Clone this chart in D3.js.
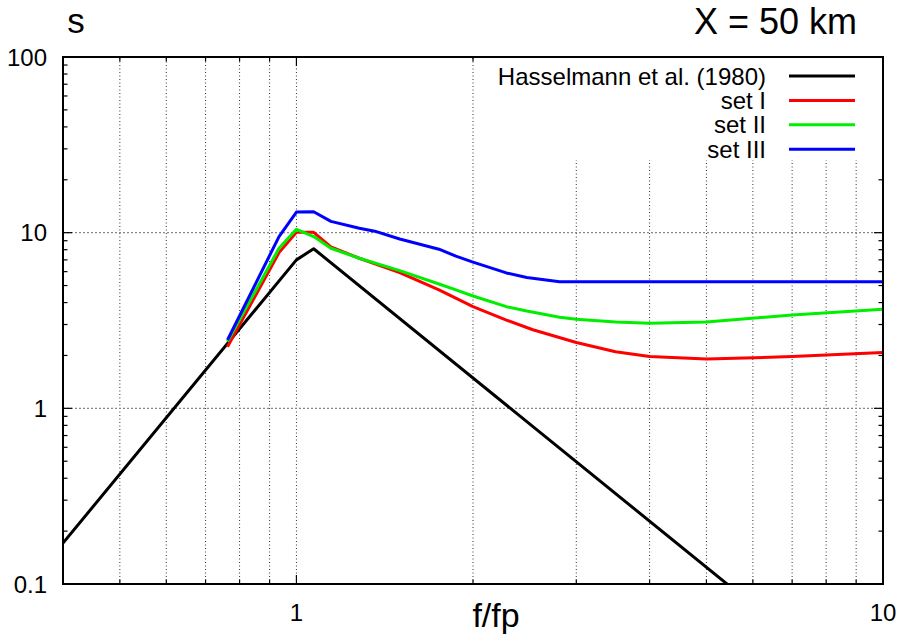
<!DOCTYPE html>
<html>
<head>
<meta charset="utf-8">
<script src="https://cdn.jsdelivr.net/npm/d3@7"></script>
<style>
  body { margin: 0; background: #fff; }
  svg { display: block; font-family: "Liberation Sans", Arial, sans-serif; }
</style>
</head>
<body>
<svg width="903" height="641"></svg>
<script>
// f/fp values and directional spreading s
const hasselF = [0.4, 1.0, 1.07, 6.0];
const hasselS = [0.171, 7.0, 8.1, 0.076];

const set1F = [0.763, 0.934, 1.0, 1.07, 1.145, 1.28, 1.5, 1.75, 2.0, 2.28, 2.53, 3.0, 3.5, 4.0, 5.0, 7.0, 10];
const set1S = [2.24, 7.7, 10.05, 10.05, 8.3, 7.15, 5.92, 4.72, 3.79, 3.18, 2.8, 2.37, 2.1, 1.97, 1.91, 1.97, 2.08];

const set2F = [0.763, 0.934, 1.0, 1.07, 1.145, 1.28, 1.5, 1.75, 1.87, 2.0, 2.28, 2.47, 2.81, 3.0, 3.5, 4.0, 5.0, 7.0, 10];
const set2S = [2.4, 8.15, 10.45, 9.5, 8.15, 7.15, 6.08, 5.1, 4.72, 4.36, 3.79, 3.58, 3.3, 3.21, 3.1, 3.05, 3.1, 3.4, 3.66];

const set3F = [0.763, 0.934, 1.0, 1.07, 1.145, 1.28, 1.36, 1.5, 1.75, 1.87, 2.0, 2.28, 2.47, 2.81, 10];
const set3S = [2.45, 9.5, 13.1, 13.15, 11.6, 10.6, 10.2, 9.2, 8.05, 7.35, 6.8, 5.9, 5.55, 5.25, 5.25];

const seriesNames = ["Hasselmann et al. (1980)", "set I", "set II", "set III"];
const seriesColors = ["#000000", "#ff0000", "#00ee00", "#0000ff"];

const xMinor = [0.5, 0.6, 0.7, 0.8, 0.9, 2, 3, 4, 5, 6, 7, 8, 9];
const xMajor = [1, 10];
const yMinor = [0.2, 0.3, 0.4, 0.5, 0.6, 0.7, 0.8, 0.9, 2, 3, 4, 5, 6, 7, 8, 9, 20, 30, 40, 50, 60, 70, 80, 90];
const yMajor = [0.1, 1, 10, 100];

const plot = { left: 63, right: 883, top: 57, bottom: 584 };

const svg = d3.select("svg");

const x = d3.scaleLog().domain([0.4, 10]).range([plot.left, plot.right]);
const y = d3.scaleLog().domain([0.1, 100]).range([plot.bottom, plot.top]);

// grid
const legendBox = { x0: 488, y1: 160 };
svg.append("g")
    .selectAll("line")
    .data(xMinor.concat([1]))
    .enter()
    .append("line")
    .attr("x1", d => x(d))
    .attr("x2", d => x(d))
    .attr("y1", plot.bottom)
    .attr("y2", d => x(d) > legendBox.x0 ? legendBox.y1 : plot.top)
    .style("stroke", "#333")
    .style("stroke-width", 1)
    .style("stroke-dasharray", "1,2.5");

svg.append("g")
    .selectAll("line")
    .data([1, 10])
    .enter()
    .append("line")
    .attr("x1", plot.left)
    .attr("x2", plot.right)
    .attr("y1", d => y(d))
    .attr("y2", d => y(d))
    .style("stroke", "#888")
    .style("stroke-width", 1.2)
    .style("stroke-dasharray", "2,2");

// tick marks on all four sides
const ticks = svg.append("g").style("stroke", "#000").style("stroke-width", 1.2);
function xTicks(vals, len) {
    vals.forEach(v => {
        ticks.append("line").attr("x1", x(v)).attr("x2", x(v)).attr("y1", plot.bottom).attr("y2", plot.bottom - len);
        ticks.append("line").attr("x1", x(v)).attr("x2", x(v)).attr("y1", plot.top).attr("y2", plot.top + len);
    });
}
function yTicks(vals, len) {
    vals.forEach(v => {
        ticks.append("line").attr("y1", y(v)).attr("y2", y(v)).attr("x1", plot.left).attr("x2", plot.left + len);
        ticks.append("line").attr("y1", y(v)).attr("y2", y(v)).attr("x1", plot.right).attr("x2", plot.right - len);
    });
}
xTicks(xMinor, 4.5);
xTicks(xMajor, 9);
yTicks(yMinor, 4.5);
yTicks(yMajor, 9);

// tick labels
svg.append("g")
    .selectAll("text")
    .data(xMajor)
    .enter()
    .append("text")
    .attr("x", d => x(d))
    .attr("y", 621)
    .attr("text-anchor", "middle")
    .style("font-size", "24px")
    .text(d => d);

svg.append("g")
    .selectAll("text")
    .data(yMajor)
    .enter()
    .append("text")
    .attr("x", 47)
    .attr("y", d => y(d))
    .attr("dy", "0.36em")
    .attr("text-anchor", "end")
    .style("font-size", "24px")
    .text(d => d);

// data lines
svg.append("clipPath").attr("id", "plot-clip")
    .append("rect")
    .attr("x", plot.left).attr("y", plot.top)
    .attr("width", plot.right - plot.left).attr("height", plot.bottom - plot.top);

const line = d3.line().x(d => x(d[0])).y(d => y(d[1]));
const allSeries = [
    d3.zip(hasselF, hasselS),
    d3.zip(set1F, set1S),
    d3.zip(set2F, set2S),
    d3.zip(set3F, set3S)
];

// legend background hides the grid beneath it
svg.append("rect")
    .attr("x", legendBox.x0).attr("y", plot.top + 1)
    .attr("width", plot.right - legendBox.x0 - 1).attr("height", legendBox.y1 - plot.top - 1)
    .style("fill", "#fff");

svg.append("g")
    .attr("clip-path", "url(#plot-clip)")
    .selectAll("path")
    .data(allSeries)
    .enter()
    .append("path")
    .attr("d", line)
    .style("fill", "none")
    .style("stroke", (d, i) => seriesColors[i])
    .style("stroke-width", 3)
    .style("stroke-linejoin", "round");

// legend
const legend = svg.append("g")
    .selectAll("g")
    .data(seriesNames)
    .enter()
    .append("g")
    .attr("transform", (d, i) => `translate(0,${76 + i * 24.4})`);

legend.append("text")
    .attr("x", 766)
    .attr("dy", "0.36em")
    .attr("text-anchor", "end")
    .style("font-size", "24px")
    .text(d => d);

legend.append("line")
    .attr("x1", 789)
    .attr("x2", 855)
    .style("stroke", (d, i) => seriesColors[i])
    .style("stroke-width", 3);

// frame
svg.append("rect")
    .attr("x", plot.left).attr("y", plot.top)
    .attr("width", plot.right - plot.left).attr("height", plot.bottom - plot.top)
    .style("fill", "none")
    .style("stroke", "#000")
    .style("stroke-width", 2);

// titles
svg.append("text")
    .attr("x", 76).attr("y", 33)
    .attr("text-anchor", "middle")
    .style("font-size", "35px")
    .text("s");

svg.append("text")
    .attr("x", 857).attr("y", 34)
    .attr("text-anchor", "end")
    .style("font-size", "36px")
    .text("X = 50 km");

svg.append("text")
    .attr("x", 496).attr("y", 627)
    .attr("text-anchor", "middle")
    .style("font-size", "34px")
    .text("f/fp");
</script>
</body>
</html>
